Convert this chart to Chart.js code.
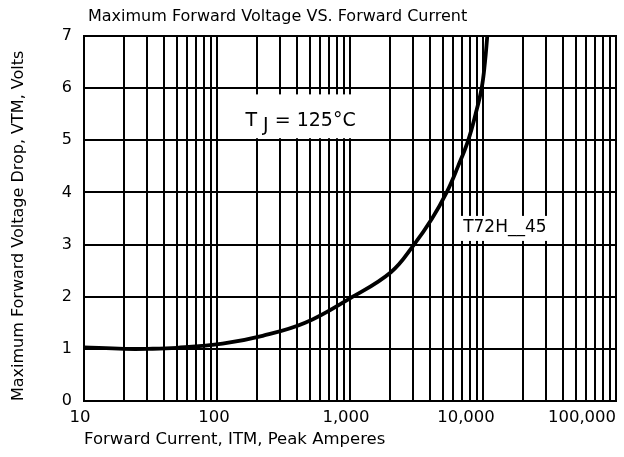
<!DOCTYPE html>
<html><head><meta charset="utf-8">
<script src="https://cdn.jsdelivr.net/npm/chart.js@4/dist/chart.umd.min.js"></script>
<style>html,body{margin:0;padding:0;background:#fff}#wrap{width:624px;height:457px;position:relative}</style>
</head><body><div id="wrap"><canvas id="c" width="624" height="457"></canvas></div>
<script>
// ---- data ----
const current = [10, 20, 30, 50, 110, 220, 460, 1000, 2030, 3030, 4140, 5330, 6490, 7740, 8790, 9770, 10350, 10770];
const voltage = [1.03, 1.0, 1.0, 1.02, 1.1, 1.25, 1.5, 1.97, 2.47, 3.0, 3.5, 4.0, 4.5, 5.0, 5.5, 6.0, 6.5, 7.0];
const xTickValues = [10, 100, 1000, 10000, 100000];
const xTickLabels = ['10', '100', '1,000', '10,000', '100,000'];
const yMin = 0, yMax = 7;
const chartTitle = 'Maximum Forward Voltage VS. Forward Current';
const xTitle = 'Forward Current, ITM, Peak Amperes';
const yTitle = 'Maximum Forward Voltage Drop, VTM, Volts';
const tjLabel = ['T', 'J', ' = 125\u00B0C'];
const partLabel = 'T72H__45';

const FONT = "'DejaVu Sans', 'Liberation Sans', Arial, sans-serif";

// grid positions: 1..9 x each decade
const gridValues = [];
for (let d = 10; d < 100000; d *= 10) for (let m = 1; m <= 9; m++) gridValues.push(d * m);
gridValues.push(100000);

const overlay = {
  id: 'overlay',
  afterDatasetsDraw(chart) {
    const {ctx, scales: {x, y}} = chart;
    ctx.save();
    function box(x0, x1, y0, y1) {
      const px0 = x.getPixelForValue(x0), px1 = x.getPixelForValue(x1);
      const py0 = y.getPixelForValue(y0), py1 = y.getPixelForValue(y1);
      ctx.fillStyle = '#fff';
      ctx.fillRect(px0, py0, px1 - px0, py1 - py0);
    }
    box(105, 1820, 5.88, 5.04);
    box(6460, 35000, 3.55, 3.07);
    ctx.fillStyle = '#000';
    ctx.textBaseline = 'middle';
    // TJ label
    ctx.font = '19px ' + FONT;
    const cx = x.getPixelForValue(425), cy = y.getPixelForValue(5.36);
    const w0 = ctx.measureText(tjLabel[0]).width;
    const w1 = ctx.measureText(tjLabel[1]).width;
    const w2 = ctx.measureText(tjLabel[2]).width;
    const gap = 6;
    const sx = cx - (w0 + gap + w1 + w2) / 2;
    ctx.textAlign = 'left';
    ctx.fillText(tjLabel[0], sx, cy);
    ctx.fillText(tjLabel[1], sx + w0 + gap, cy + 5);
    ctx.fillText(tjLabel[2], sx + w0 + gap + w1, cy);
    // part label
    ctx.font = '17px ' + FONT;
    ctx.textAlign = 'center';
    ctx.fillText(partLabel, x.getPixelForValue(14600), y.getPixelForValue(3.33));
    ctx.restore();
  },
  afterDraw(chart) {
    const {ctx, chartArea: a, scales: {x}} = chart;
    ctx.save();
    ctx.strokeStyle = '#000';
    ctx.lineWidth = 2;
    ctx.strokeRect(a.left, a.top, a.right - a.left, a.bottom - a.top);
    ctx.fillStyle = '#000';
    ctx.font = '16px ' + FONT;
    ctx.textAlign = 'left';
    ctx.textBaseline = 'middle';
    ctx.fillText(chartTitle, 88, 17);
    const shift = [-4, -3, -4, -17, -34];
    ctx.font = '16.5px ' + FONT;
    ctx.textAlign = 'center';
    xTickValues.forEach((v, i) => {
      ctx.fillText(xTickLabels[i], x.getPixelForValue(v) + shift[i], a.bottom + 17);
    });
    ctx.restore();
  }
};

new Chart(document.getElementById('c'), {
  type: 'line',
  data: {
    datasets: [{
      data: current.map((c, i) => ({x: c, y: voltage[i]})),
      borderColor: '#000',
      borderWidth: 3.8,
      pointRadius: 0,
      fill: false,
      tension: 0.4
    }]
  },
  options: {
    responsive: false,
    animation: false,
    devicePixelRatio: 1,
    layout: {padding: {top: 36, right: 8, left: 0, bottom: 0}},
    plugins: {legend: {display: false}, title: {display: false}, tooltip: {enabled: false}},
    scales: {
      x: {
        type: 'logarithmic',
        min: 10, max: 100000,
        afterBuildTicks(s) { s.ticks = gridValues.map(v => ({value: v})); },
        afterFit(s) { s.height = 56; },
        ticks: {display: false},
        grid: {color: '#000', lineWidth: 2, drawTicks: false},
        border: {display: true, color: '#000', width: 2},
        title: {display: true, text: xTitle, align: 'start', color: '#000',
                font: {family: FONT, size: 16.5}, padding: {top: 0, bottom: 7}}
      },
      y: {
        min: yMin, max: yMax,
        afterFit(s) { s.width = 84; },
        ticks: {stepSize: 1, color: '#000', padding: 12, font: {family: FONT, size: 16}},
        grid: {color: '#000', lineWidth: 2, drawTicks: false},
        border: {display: true, color: '#000', width: 2},
        title: {display: true, text: yTitle, align: 'start', color: '#000',
                font: {family: FONT, size: 16}, padding: {top: 9, bottom: 0}}
      }
    }
  },
  plugins: [overlay]
});
</script>
</body></html>
